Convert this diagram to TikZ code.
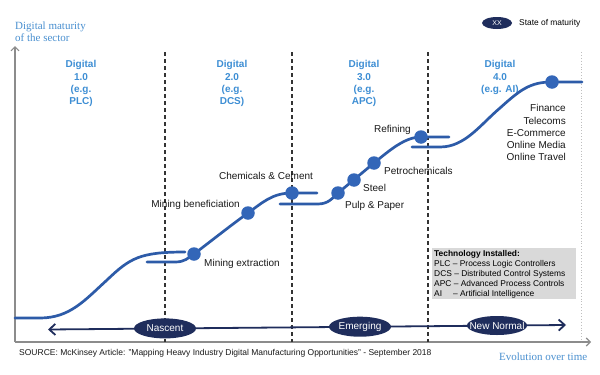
\documentclass[tikz,border=0pt]{standalone}
\usepackage{fontspec}
\setmainfont{Liberation Sans}
\newfontfamily\seriffont{Liberation Serif}
\usetikzlibrary{arrows.meta,shapes.geometric}
\definecolor{axisgray}{HTML}{8C8C8C}
\definecolor{curveblue}{HTML}{2D5BA8}
\definecolor{dotblue}{HTML}{3366B8}
\definecolor{navy}{HTML}{1F2D5C}
\definecolor{lblue}{HTML}{3D8ED4}
\definecolor{serifblue}{HTML}{4A90D0}
\definecolor{boxgray}{HTML}{D9D9D9}
\definecolor{dashcol}{HTML}{333333}
\begin{document}
\begin{tikzpicture}[x=1pt,y=-1pt,
  curve/.style={draw=curveblue, line width=2.7pt, line cap=round},
  dot/.style={circle, fill=dotblue, minimum size=13.5pt, inner sep=0},
  lbl/.style={font=\fontsize{10}{12}\selectfont, text=black!90, inner sep=0},
  digital/.style={font=\bfseries\fontsize{10}{12.4}\selectfont, text=lblue, align=center, inner sep=0, anchor=north},
  stage/.style={ellipse, fill=navy, text=white, minimum width=62pt, minimum height=20pt, inner sep=0, font=\fontsize{10}{12}\selectfont},
  divider/.style={draw=dashcol, line width=1.3pt, dash pattern=on 4pt off 3pt},
  axis/.style={draw=axisgray, line width=1.1pt, -{Straight Barb[length=4pt,width=8pt]}},
  axlabel/.style={font=\seriffont\fontsize{11}{12}\selectfont, text=serifblue, inner sep=0}
]
\useasboundingbox (0,0) rectangle (600,375);
\fill[white] (0,0) rectangle (600,375);

% axes
\coordinate (origin) at (15,342);
\coordinate (ytop) at (15,46);
\coordinate (xend) at (591,342);
\draw[axis] (origin) -- (ytop);
\draw[axis] (origin) -- (xend);
\node[axlabel, anchor=north west, align=left] (ylab) at (15,21.5) {Digital maturity\\of the sector};
\node[axlabel, anchor=base west] (xlab) at (499,360.8) {Evolution over time};

% dividers
\coordinate (d1t) at (165,52); \coordinate (d1b) at (165,342);
\coordinate (d2t) at (292,52); \coordinate (d2b) at (292,342);
\coordinate (d3t) at (428,52); \coordinate (d3b) at (428,342);
\coordinate (d4t) at (581,52); \coordinate (d4b) at (581,342);
\draw[divider] (d1t) -- (d1b);
\draw[divider] (d2t) -- (d2b);
\draw[divider] (d3t) -- (d3b);
\draw[draw=black!25, line width=0.9pt, dotted] (d4t) -- (d4b);

% digital labels
\node[digital] (dig1) at (81,60.2) {Digital\\1.0\\(e.g.\\PLC)};
\node[digital] (dig2) at (232,60.2) {Digital\\2.0\\(e.g.\\DCS)};
\node[digital] (dig3) at (364,60.2) {Digital\\3.0\\(e.g.\\APC)};
\node[digital] (dig4) at (500,60.2) {Digital\\4.0\\(e.g. AI)};

% legend
\node[ellipse, fill=navy, minimum width=30pt, minimum height=12pt, inner sep=0, text=white, font=\fontsize{7}{8}\selectfont] (legend) at (497,23) {\makebox[0pt]{XX}};
\node[font=\fontsize{8.4}{10}\selectfont, anchor=west, inner sep=0] (legtext) at (519,23) {State of maturity};

% curves
\draw[curve] (15,318) -- (40,318) .. controls (70,318) and (85,300) .. (107,280) .. controls (130,258) and (140,252) .. (185,252);
\draw[curve] (147,262) -- (175,262) .. controls (185,262) and (188,258) .. (194,254) .. controls (215,238) and (230,226) .. (248,213) .. controls (262,203) and (272,193) .. (292,193) -- (317,193);
\draw[curve] (280,204) -- (318,204) .. controls (328,204) and (333,198) .. (338,193) .. controls (350,183) and (362,173) .. (374,163) .. controls (390,150) and (405,137) .. (421,137) -- (449,137);
\draw[curve] (412,147) -- (440,147) .. controls (465,147) and (480,125) .. (500,108) .. controls (520,90) and (530,82) .. (552,82) -- (582,82);

% dots
\node[dot] (mext) at (194,254) {};
\node[dot] (mben) at (248,213) {};
\node[dot] (chem) at (292,193) {};
\node[dot] (pulp) at (338,193) {};
\node[dot] (steel) at (354,180) {};
\node[dot] (petro) at (374,163) {};
\node[dot] (refin) at (421,137) {};
\node[dot] (dig4dot) at (552,82) {};

% curve labels
\node[lbl, anchor=base west] (lmext) at (204,266.5) {Mining extraction};
\node[lbl, anchor=base east] (lmben) at (240,207.5) {Mining beneficiation};
\node[lbl, anchor=base] (lchem) at (266,179.5) {Chemicals \& Cement};
\node[lbl, anchor=base west] (lpulp) at (345,208.5) {Pulp \& Paper};
\node[lbl, anchor=base west] (lsteel) at (363,191.5) {Steel};
\node[lbl, anchor=base west] (lpetro) at (384,174.5) {Petrochemicals};
\node[lbl, anchor=base east] (lrefin) at (411,132.5) {Refining};
\node[lbl, anchor=north east, align=right, font=\fontsize{10}{12.2}\selectfont] (sectors) at (566,104.4) {Finance\\Telecoms\\E-Commerce\\Online Media\\Online Travel};

% technology box
\node[fill=boxgray, minimum width=144pt, minimum height=51pt, inner sep=0, anchor=north west] (techbox) at (432,248) {};
\node[anchor=north west, align=left, inner sep=0, font=\fontsize{8.4}{9.8}\selectfont] (techtext) at (434,250.6) {\textbf{Technology Installed:}\\PLC -- Process Logic Controllers\\DCS -- Distributed Control Systems\\APC -- Advanced Process Controls\\AI\hspace{11pt}-- Artificial Intelligence};

% maturity arrow
\coordinate (al) at (48,329.5);
\coordinate (ar) at (566,325);
\draw[draw=navy, line width=1.8pt, {Straight Barb[length=6pt,width=11pt]}-{Straight Barb[length=6pt,width=11pt]}] (al) -- (ar);
\node[stage] (nascent) at (165,328.4) {\makebox[0pt]{Nascent}};
\node[stage] (emerging) at (360,326.7) {\makebox[0pt]{Emerging}};
\node[stage, minimum width=60pt, minimum height=19pt] (newnormal) at (497,325.5) {\makebox[0pt]{New Normal}};

% source
\node[anchor=base west, inner sep=0, font=\fontsize{8.5}{10}\selectfont, text=black!90] (source) at (19,355) {SOURCE: McKinsey Article: "Mapping Heavy Industry Digital Manufacturing Opportunities" - September 2018};
\end{tikzpicture}
\end{document}
